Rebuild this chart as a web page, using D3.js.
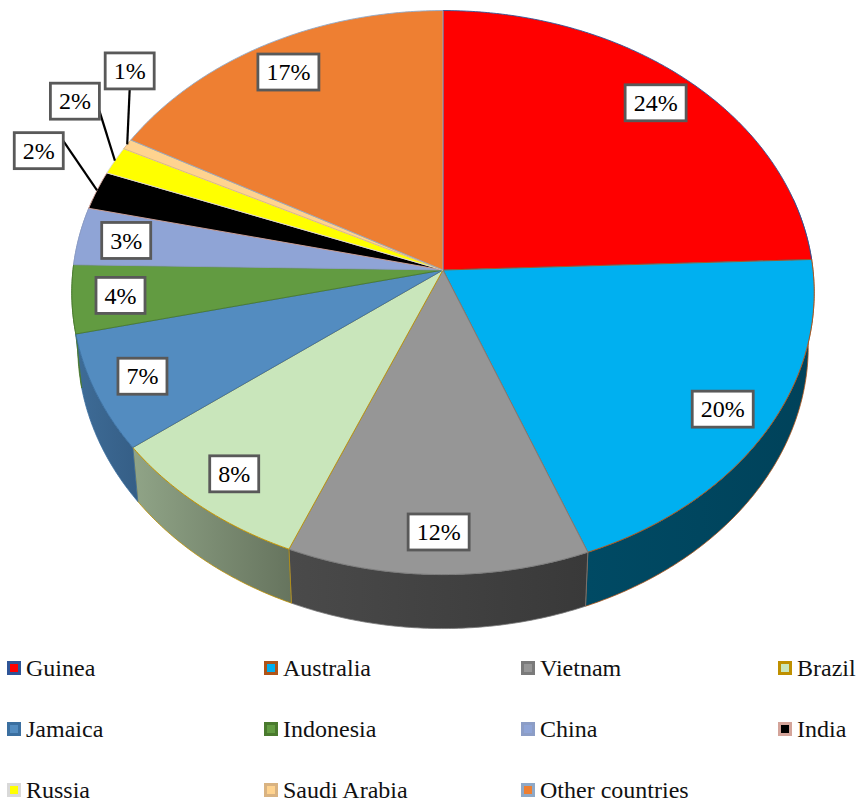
<!DOCTYPE html>
<html>
<head>
<meta charset="utf-8">
<script src="https://cdn.jsdelivr.net/npm/d3@7"></script>
<style>
  html, body { margin: 0; padding: 0; background: #ffffff; }
  svg { display: block; }
</style>
</head>
<body>
<svg id="chart" width="864" height="803"></svg>
<script>
// Bauxite producers, share of world output (%)
const categories = ["Guinea", "Australia", "Vietnam", "Brazil", "Jamaica", "Indonesia",
                    "China", "India", "Russia", "Saudi Arabia", "Other countries"];
const shares = [24.4, 19.7, 12.2, 8.4, 6.7, 3.9, 3.3, 2.2, 1.6, 0.6, 17.0];

// Slice styling: top face, outline, side (light/dark ends of the wall gradient)
const topColors    = ["#ff0000", "#00b0f0", "#969696", "#c9e6bb", "#538cc0", "#629b41",
                      "#8fa4d6", "#000000", "#ffff00", "#ffd38f", "#ee7f32"];
const borderColors = ["#2f5597", "#b05418", "#7a7a7a", "#bf9000", "#3b6fa0", "#4a7a2e",
                      "#8c9dc6", "#d4a49a", "#d9d9d9", "#d9b382", "#8ea9c8"];
const sideLight    = ["#9a0000", "#004a64", "#4a4a4a", "#90a487", "#3e6c97", "#4b7633",
                      "#56627f", "#000000", "#999900", "#99805a", "#8e4c1e"];
const sideDark     = ["#800000", "#00425a", "#393939", "#66745e", "#355e86", "#3e622a",
                      "#4a556f", "#000000", "#808000", "#806a4a", "#7a4119"];

const FONT = "'Liberation Serif', 'Times New Roman', Tinos, serif";

// Placement of the small slices' labels, which sit outside the rim with leaders
const outsideLabels = {
  "India":        { angle: 291.3, r: 1.214, anchor: [1, 0.23] },
  "Russia":       { angle: 301.2, r: 1.222, anchor: [1, 0.77] },
  "Saudi Arabia": { angle: 310.0, r: 1.172, anchor: [0.5, 1] }
};

const svg = d3.select("#chart");
const defs = svg.append("defs");

// Tilted-disc projection: apex, radii and perspective strength
const CX = 443, CY = 270, RX = 370, RY = 280.2, PERSP = 0.08;
const DEPTH = 54, DEPTH_SHRINK = 0.984;

function project(theta, r, lower) {
  const X = r * Math.sin(theta), Z = r * Math.cos(theta);
  const s = 1 / (1 + PERSP * Z);
  let x = CX + RX * X * s, y = CY - RY * Z * s;
  if (lower) { x = CX + (x - CX) * DEPTH_SHRINK; y += DEPTH; }
  return [x, y];
}

function arcPoints(a0, a1, r, lower) {
  const n = Math.max(2, Math.ceil(Math.abs(a1 - a0) / (Math.PI / 360)));
  return d3.range(n + 1).map(i => project(a0 + (a1 - a0) * i / n, r, lower));
}

const pie = d3.pie().sort(null).value(d => d);
const arcs = pie(shares).map((a, i) => ({ ...a, name: categories[i], i }));
const total = d3.sum(shares);
const pctText = v => Math.round(v / total * 100) + "%";

const line = d3.line();

// Outer walls (only the front half of the disc shows)
const wallMin = 75 * Math.PI / 180, wallMax = 285 * Math.PI / 180;
const walls = svg.append("g");
arcs.forEach(a => {
  const a0 = Math.max(a.startAngle, wallMin), a1 = Math.min(a.endAngle, wallMax);
  if (a1 <= a0) return;
  const upper = arcPoints(a0, a1, 1, false);
  const lower = arcPoints(a1, a0, 1, true);
  const pts = upper.concat(lower);
  const xs = pts.map(p => p[0]);
  const gid = "wall" + a.i;
  const g = defs.append("linearGradient").attr("id", gid)
    .attr("gradientUnits", "userSpaceOnUse")
    .attr("x1", d3.min(xs)).attr("x2", d3.max(xs)).attr("y1", 0).attr("y2", 0);
  g.append("stop").attr("offset", "0%").attr("stop-color", sideLight[a.i]);
  g.append("stop").attr("offset", "100%").attr("stop-color", sideDark[a.i]);
  walls.append("path")
    .attr("d", line(pts) + "Z")
    .attr("fill", `url(#${gid})`)
    .attr("stroke", borderColors[a.i])
    .attr("stroke-width", 0.8)
    .attr("stroke-linejoin", "round");
});

// Top faces
const tops = svg.append("g");
arcs.forEach(a => {
  const pts = [[CX, CY]].concat(arcPoints(a.startAngle, a.endAngle, 1, false));
  tops.append("path")
    .attr("d", line(pts) + "Z")
    .attr("fill", topColors[a.i])
    .attr("stroke", borderColors[a.i])
    .attr("stroke-width", 0.9)
    .attr("stroke-linejoin", "round");
});

// Data labels
const labels = svg.append("g");
const BOX_H = 36, PAD_X = 8.5;
arcs.forEach(a => {
  const mid = (a.startAngle + a.endAngle) / 2;
  const out = outsideLabels[a.name];
  const [lx, ly] = out ? project(out.angle * Math.PI / 180, out.r, false)
                       : project(mid, 0.87, false);
  const g = labels.append("g");
  const rect = g.append("rect");
  const t = g.append("text")
    .attr("x", lx).attr("y", ly).attr("dy", "0.34em")
    .attr("text-anchor", "middle")
    .attr("font-family", FONT)
    .attr("font-size", 24)
    .attr("fill", "#000")
    .text(pctText(a.value));
  const w = t.node().getComputedTextLength() + 2 * PAD_X;
  rect.attr("x", lx - w / 2).attr("y", ly - BOX_H / 2)
    .attr("width", w).attr("height", BOX_H)
    .attr("fill", "#ffffff").attr("stroke", "#595959").attr("stroke-width", 2.8);
  if (out) {
    const rim = project(mid, 1, false);
    const ax = lx - w / 2 + out.anchor[0] * w;
    const ay = ly - BOX_H / 2 + out.anchor[1] * BOX_H;
    labels.insert("line", ":first-child")
      .attr("x1", rim[0]).attr("y1", rim[1])
      .attr("x2", ax).attr("y2", ay)
      .attr("stroke", "#000").attr("stroke-width", 2.2);
  }
});

// Legend: 4 columns x 3 rows
const legend = svg.append("g");
const colX = d3.scalePoint().domain(d3.range(4)).range([7, 778]);
const rowY = d3.scalePoint().domain(d3.range(3)).range([668, 790]);
categories.forEach((name, i) => {
  const x = colX(i % 4), y = rowY(Math.floor(i / 4));
  legend.append("rect")
    .attr("x", x + 1.5).attr("y", y - 5.5).attr("width", 11).attr("height", 11)
    .attr("fill", topColors[i])
    .attr("stroke", borderColors[i]).attr("stroke-width", 3);
  legend.append("text")
    .attr("x", x + 19).attr("y", y).attr("dy", "0.35em")
    .attr("font-family", FONT)
    .attr("font-size", 24).attr("fill", "#111")
    .text(name);
});
</script>
</body>
</html>
